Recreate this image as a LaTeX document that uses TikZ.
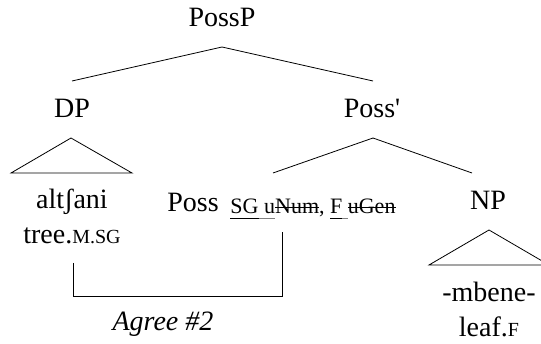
\documentclass[tikz,border=0pt]{standalone}
\usepackage{fontspec}
\setmainfont{Liberation Serif}[Ligatures=TeXOff]
\newcommand\mainsz{\fontsize{28}{32}\selectfont}
\newcommand\featsz{\fontsize{22}{26}\selectfont}
\newcommand\fsc[1]{{\fontsize{20}{24}\selectfont #1}}
\newsavebox\mytmpbox
\newcommand\mystrike[1]{\sbox\mytmpbox{#1}\rlap{\rule[0.27em]{\wd\mytmpbox}{0.6pt}}\usebox\mytmpbox}
\newcommand\myul[1]{\sbox\mytmpbox{#1}\rlap{\rule[-0.22em]{\wd\mytmpbox}{0.6pt}}\usebox\mytmpbox}
\newcommand\mydul[1]{\sbox\mytmpbox{#1}\rlap{\textcolor{gray}{\rule[-0.22em]{\wd\mytmpbox}{0.5pt}}}\usebox\mytmpbox}
\begin{document}
\begin{tikzpicture}[x=1pt,y=-1pt,
  lbl/.style={font=\mainsz, inner sep=0pt, anchor=base},
  feat/.style={font=\featsz, inner sep=0pt, anchor=base},
  branch/.style={line width=0.8pt, line join=miter},
  bracket/.style={line width=0.8pt}]
\useasboundingbox (0,0) rectangle (541,344);
\clip (0,0) rectangle (541,344);
% text nodes
\node[lbl] (possp) at (222,27) {PossP};
\node[lbl] (dp) at (72,118) {DP};
\node[lbl] (possbar) at (372,118) {Poss'};
\node[lbl] (alt) at (72,209) {altʃani};
\node[lbl] (tree) at (72,244) {tree.\fsc{M.SG}};
\node[lbl] (poss) at (193,212) {Poss};
\node[feat] (features) at (313,214) {\myul{SG}\mydul{\ u}\mystrike{Num}, \myul{F}\mydul{\ }\mystrike{uGen}};
\node[lbl] (np) at (488,210) {NP};
\node[lbl] (mbene) at (489,302) {-mbene-};
\node[lbl] (leaf) at (489,337) {leaf.\fsc{F}};
\node[lbl, font=\mainsz\itshape] (agree) at (163,331) {Agree \#2};
% branch points
\coordinate (ppB) at (222,47);
\coordinate (dpT) at (72,81);
\coordinate (pbT) at (373,81);
\coordinate (dpA) at (71,138);
\coordinate (dpL) at (11,173);
\coordinate (dpR) at (132,173);
\coordinate (pbB) at (373,138);
\coordinate (possT) at (273,173);
\coordinate (npT) at (472,173);
\coordinate (npA) at (489,230);
\coordinate (npL) at (429,265);
\coordinate (npR) at (549,265);
\coordinate (agL) at (73,263);
\coordinate (agBL) at (73,296);
\coordinate (agBR) at (282,296);
\coordinate (agR) at (282,232);
% branches
\draw[branch] (ppB) -- (dpT);
\draw[branch] (ppB) -- (pbT);
\draw[branch] (dpA) -- (dpL) -- (dpR) -- cycle;
\draw[branch] (pbB) -- (possT);
\draw[branch] (pbB) -- (npT);
\draw[branch] (npA) -- (npL) -- (npR) -- cycle;
% agree bracket
\draw[bracket] (agL) -- (agBL) -- (agBR) -- (agR);
\end{tikzpicture}
\end{document}
